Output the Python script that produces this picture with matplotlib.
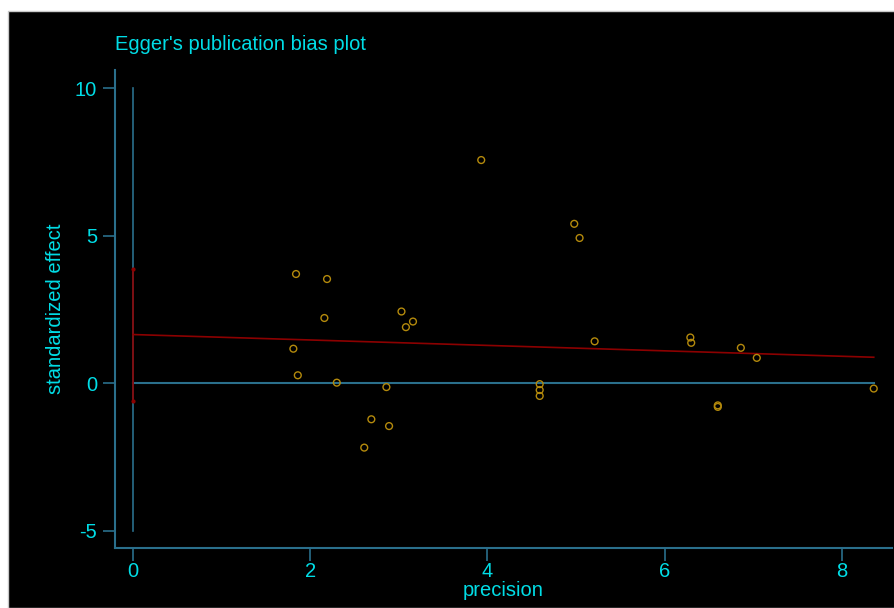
import numpy as np
import matplotlib.pyplot as plt
from matplotlib.patches import Rectangle

# precision (1/se) and standardized effect (effect/se)
precision = [1.84, 1.81, 1.86, 2.19, 2.16, 2.30, 2.69, 2.61, 2.86, 2.89,
             3.03, 3.08, 3.16, 3.93, 4.59, 4.59, 4.59, 4.98, 5.04, 5.21,
             6.29, 6.30, 6.60, 6.60, 6.86, 7.04, 8.36]
std_effect = [3.70, 1.17, 0.27, 3.53, 2.21, 0.02, -1.22, -2.18, -0.13, -1.45,
              2.43, 1.90, 2.09, 7.56, -0.03, -0.23, -0.43, 5.40, 4.92, 1.42,
              1.55, 1.37, -0.75, -0.80, 1.20, 0.86, -0.18]

# Egger regression line and CI for the intercept
intercept = 1.65
slope = -0.092
ci_low, ci_high = -0.59, 3.87

yticks = [-5, 0, 5, 10]
xticks = [0, 2, 4, 6, 8]

txt = '#00dde6'
axcol = '#2a6f8c'
red = '#8c0000'
gold = '#b48a0c'

plt.rcParams['font.family'] = ['Liberation Sans', 'DejaVu Sans']
plt.rcParams['axes.unicode_minus'] = False

fig = plt.figure(figsize=(8.94, 6.08), dpi=100, facecolor='white')
fig.patches.append(Rectangle((8 / 894, 0), 1, 1 - 11 / 608, transform=fig.transFigure,
                             facecolor='black', edgecolor='#c8c8c8', lw=1, zorder=-5))

ax = fig.add_axes([115 / 894, 1 - 548 / 608, (892 - 115) / 894, (548 - 70) / 608])
ax.set_zorder(2)
ax.patch.set_alpha(0)

xmax = max(precision)
ax.plot([0, 0], [-5, 10], color=axcol, lw=1.2, zorder=1)
ax.plot([0, xmax], [0, 0], color=axcol, lw=1.5, zorder=1)
xs = np.array([0, xmax])
ax.plot(xs, intercept + slope * xs, color=red, lw=1.2, zorder=2)
ax.plot([0, 0], [ci_low, ci_high], color=red, lw=1.2, marker='.', markersize=4, zorder=2)
ax.scatter(precision, std_effect, s=24, facecolors='none', edgecolors=gold,
           linewidths=1.0, zorder=3)

ax.set_xlim(-0.203, 8.566)
ax.set_ylim(-5.58, 10.61)
ax.set_xticks(xticks)
ax.set_yticks(yticks)

for s in ['top', 'right']:
    ax.spines[s].set_visible(False)
for s in ['left', 'bottom']:
    ax.spines[s].set_color(axcol)
    ax.spines[s].set_linewidth(1.5)
ax.tick_params(axis='both', colors=axcol, labelcolor=txt, labelsize=14.5,
               length=9, width=1.2)
ax.tick_params(axis='y', pad=4)
ax.tick_params(axis='x', pad=1)

ax.set_xlabel('precision', color=txt, fontsize=14.5, labelpad=0)
ax.set_ylabel('standardized effect', color=txt, fontsize=14.5, labelpad=7)
fig.text(115 / 894, 1 - 45 / 608, "Egger's publication bias plot", color=txt,
         fontsize=14.5, ha='left', va='center')

fig.savefig('out.png', dpi=100, facecolor=fig.get_facecolor())
